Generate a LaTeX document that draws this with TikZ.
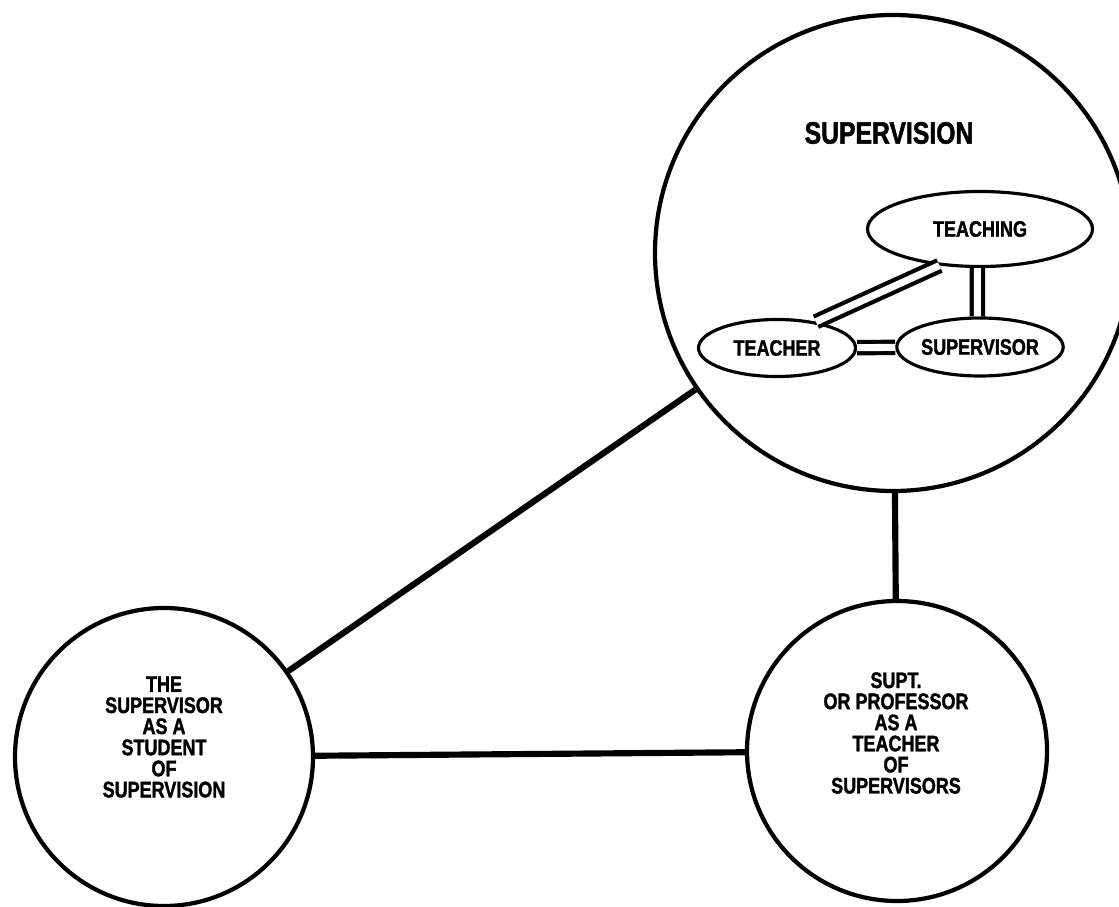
\documentclass[tikz,border=0pt]{standalone}
\usepackage{fontspec}
\usetikzlibrary{shapes.geometric}
\newfontfamily\diagfont[FakeStretch=0.8,FakeBold=1.5]{Liberation Sans}
\tikzset {
  every node/.style={font=\diagfont\bfseries\fontsize{12.8}{12}\selectfont,align=center},
  ring/.style={circle,draw,line width=2.4pt,inner sep=0pt},
  oval/.style={ellipse,draw,line width=1.8pt,inner sep=0pt},
  link/.style={line width=3.5pt},
  dlink/.style={double,line width=2.4pt,double distance=4pt},
}

\begin{document}
\begin{tikzpicture}
  \useasboundingbox (0,0) rectangle (22.38,18.12);
  \clip (0,0) rectangle (22.38,18.12);

  \node (sup) at (17.86,13.06) [ring,minimum size=9.52cm] {};
  \node (title) at (17.78,15.46) {\fontsize{17.6}{18}\selectfont SUPERVISION};

  \node (teaching) at (19.6,13.54) [oval,minimum width=4.5cm,minimum height=1.5cm] {TEACHING};
  \node (teacher) at (15.54,11.16) [oval,minimum width=3.14cm,minimum height=1.14cm] {TEACHER};
  \node (superv) at (19.6,11.18) [oval,minimum width=3.12cm,minimum height=1.16cm] {SUPERVISOR};

  \draw[dlink] (teaching.222) -- (teacher.34);
  \draw[dlink] (teaching.266) -- (superv.95);
  \draw[dlink] (teacher) -- (superv);

  \node (student) at (3.28,2.98) [ring,minimum size=5.96cm] {};
  \node (studtext) at (3.28,3.38) {THE\\SUPERVISOR\\AS A\\STUDENT\\OF\\SUPERVISION};

  \node (prof) at (17.94,3.10) [ring,minimum size=6cm] {};
  \node (proftext) at (17.92,3.46) {SUPT.\\OR PROFESSOR\\AS A\\TEACHER\\OF\\SUPERVISORS};

  \draw[link] (student) -- (sup);
  \draw[link] (student) -- (prof);
  \draw[link] (sup) -- (prof);
\end{tikzpicture}
\end{document}
